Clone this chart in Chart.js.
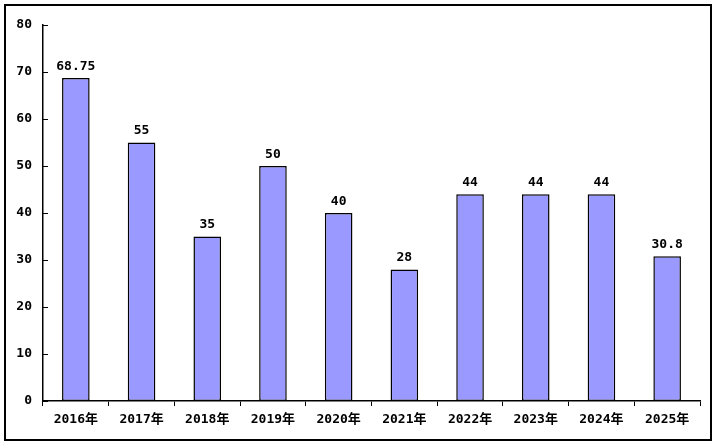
<!DOCTYPE html>
<html>
<head>
<meta charset="utf-8">
<script src="https://cdn.jsdelivr.net/npm/chart.js@4/dist/chart.umd.min.js"></script>
<style>
body { margin: 0; background: #fff; }
#box { width: 716px; height: 445px; }
</style>
</head>
<body>
<div id="box"><canvas id="grafico" width="716" height="445"></canvas></div>
<script>
// datos
const categorias = ['2016年', '2017年', '2018年', '2019年', '2020年', '2021年', '2022年', '2023年', '2024年', '2025年'];
const valores = [68.75, 55, 35, 50, 40, 28, 44, 44, 44, 30.8];
const etiquetas = ['68.75', '55', '35', '50', '40', '28', '44', '44', '44', '30.8'];
const marcasY = [0, 10, 20, 30, 40, 50, 60, 70, 80];

const fuente = { family: '"DejaVu Sans Mono", "Noto Sans CJK SC", monospace', size: 13, weight: 'bold' };

// marco exterior + marcas interiores del eje Y + valores encima de las barras
const extras = {
	id: 'extras',
	afterDraw(chart) {
		const ctx = chart.ctx;
		const y = chart.scales.y;
		ctx.save();
		ctx.strokeStyle = '#000';
		ctx.lineWidth = 2;
		ctx.strokeRect(5, 5, chart.width - 10, chart.height - 10);

		ctx.lineWidth = 1;
		marcasY.forEach(v => {
			const py = Math.round(y.getPixelForValue(v)) + 0.5;
			ctx.beginPath();
			ctx.moveTo(chart.chartArea.left, py);
			ctx.lineTo(chart.chartArea.left + 5, py);
			ctx.stroke();
		});

		ctx.fillStyle = '#000';
		ctx.font = 'bold 13px "DejaVu Sans Mono", monospace';
		ctx.textAlign = 'center';
		ctx.textBaseline = 'bottom';
		chart.getDatasetMeta(0).data.forEach((bar, i) => {
			ctx.fillText(etiquetas[i], bar.x, bar.y - 5);
		});
		ctx.restore();
	}
};

new Chart(document.getElementById('grafico'), {
	type: 'bar',
	data: {
		labels: categorias,
		datasets: [{
			data: valores,
			backgroundColor: '#9999FF',
			borderColor: '#000',
			borderWidth: 1.5,
			borderSkipped: false,
			categoryPercentage: 1,
			barPercentage: 0.42
		}]
	},
	options: {
		responsive: false,
		animation: false,
		layout: { padding: { left: 0, top: 25, right: 16, bottom: 0 } },
		plugins: { legend: { display: false }, tooltip: { enabled: false } },
		scales: {
			x: {
				grid: { display: true, offset: true, drawOnChartArea: false, color: '#000', tickLength: 5, lineWidth: 1 },
				border: { display: true, color: '#000', width: 1.5 },
				ticks: { color: '#000', font: fuente, padding: 6, maxRotation: 0 },
				afterFit: s => { s.height = 44; }
			},
			y: {
				min: 0,
				max: 80,
				afterBuildTicks: s => { s.ticks = marcasY.map(v => ({ value: v })); },
				grid: { display: false },
				border: { display: true, color: '#000', width: 1.5 },
				ticks: { color: '#000', font: fuente, padding: 3 },
				afterFit: s => { s.width = 43; }
			}
		}
	},
	plugins: [extras]
});
</script>
</body>
</html>
